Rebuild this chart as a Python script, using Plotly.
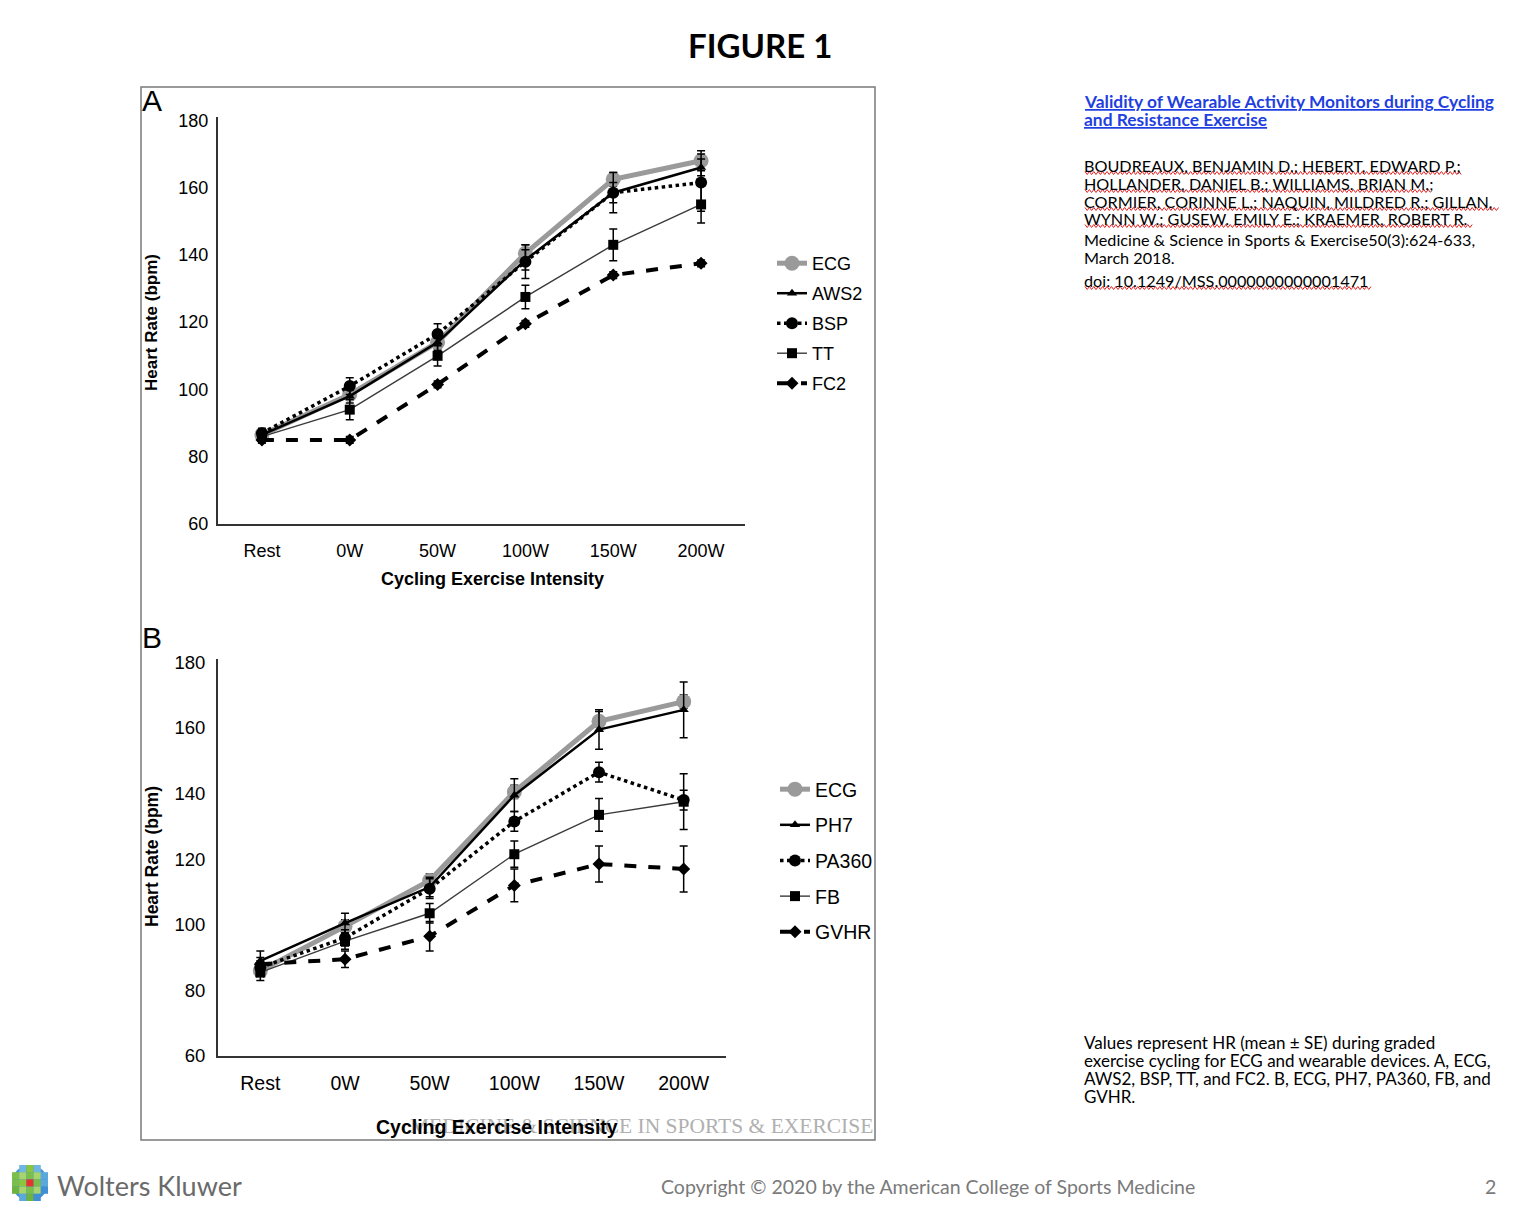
import plotly.graph_objects as go

# ---------------- data ----------------
categories = ["Rest", "0W", "50W", "100W", "150W", "200W"]
y_ticks = [60, 80, 100, 120, 140, 160, 180]

# Panel A
ecg_a = [86.5, 98.5, 114, 140.5, 162.5, 168]
ecg_a_se = [1.5, 1.5, 2, 2.5, 2, 3]
aws2_a = [86.5, 98, 114, 138.5, 158.5, 166]
aws2_a_se = [1.5, 2, 2.5, 3, 3, 2.5]
bsp_a = [87, 101, 116.5, 138, 158.5, 161.5]
bsp_a_se = [1.5, 2.5, 3, 5, 6, 8.5]
tt_a = [86, 94, 110, 127.5, 143, 155]
tt_a_se = [1.5, 3, 3, 3.5, 4.7, 5.5]
fc2_a = [85, 85, 101.5, 119.5, 134, 137.5]
fc2_a_se = [1, 1, 1, 1, 1, 1]

# Panel B
ecg_b = [86, 99.5, 113.5, 140.5, 162, 168]
ecg_b_se = [2, 2, 2, 2, 3, 2]
ph7_b = [89, 100.5, 111.5, 139.5, 159.5, 165.5]
ph7_b_se = [3, 3, 3, 5, 6, 8.5]
pa360_b = [87, 96, 111, 131.5, 146.5, 138]
pa360_b_se = [2, 2.5, 3, 3, 3, 3]
fb_b = [85.5, 95, 103.5, 121.5, 133.5, 137.5]
fb_b_se = [2.5, 2.5, 3, 4, 5, 8.5]
gvhr_b = [88, 89.5, 96.5, 112, 118.5, 117]
gvhr_b_se = [2, 2.5, 4.5, 5, 5.5, 7]

W, H = 1530, 1230
def px(x):
    return x / W
def py(y):
    return 1 - y / H

FONT = "Liberation Sans, Arial, sans-serif"
TXT = "Lato, Open Sans, sans-serif"

fig = go.Figure()

styles = {
    "ecg": dict(line=dict(color="#9a9a9a", width=5), marker=dict(symbol="circle", size=15, color="#9a9a9a")),
    "solid": dict(line=dict(color="#000000", width=2.5), marker=dict(symbol="triangle-up", size=9, color="#000000")),
    "dot": dict(line=dict(color="#000000", width=3.5, dash="dot"), marker=dict(symbol="circle", size=12, color="#000000")),
    "thin": dict(line=dict(color="#3a3a3a", width=1.4), marker=dict(symbol="square", size=10, color="#000000")),
    "dash": dict(line=dict(color="#000000", width=4, dash="dash"), marker=dict(symbol="diamond", size=10, color="#000000")),
}

def add_series(name, y, se, style, xa, ya, legend, group):
    fig.add_trace(go.Scatter(
        x=categories, y=y, name=name, mode="lines+markers",
        error_y=dict(type="data", array=se, visible=True, color="#000000", thickness=1.5, width=4),
        xaxis=xa, yaxis=ya, legend=legend, legendgroup=group,
        **styles[style]))

panelA = [("ECG", ecg_a, ecg_a_se, "ecg"), ("AWS2", aws2_a, aws2_a_se, "solid"),
          ("BSP", bsp_a, bsp_a_se, "dot"), ("TT", tt_a, tt_a_se, "thin"),
          ("FC2", fc2_a, fc2_a_se, "dash")]
panelB = [("ECG", ecg_b, ecg_b_se, "ecg"), ("PH7", ph7_b, ph7_b_se, "solid"),
          ("PA360", pa360_b, pa360_b_se, "dot"), ("FB", fb_b, fb_b_se, "thin"),
          ("GVHR", gvhr_b, gvhr_b_se, "dash")]

for i, (n, y, se, st) in enumerate(panelA):
    add_series(n, y, se, st, "x", "y", "legend", "a%d" % i)
for i, (n, y, se, st) in enumerate(panelB):
    add_series(n, y, se, st, "x2", "y2", "legend2", "b%d" % i)

axis_common = dict(showline=True, linecolor="#333333", linewidth=2, showgrid=False, zeroline=False,
                   fixedrange=True, automargin=False)

def tf(size):
    return dict(family=FONT, size=size, color="#000000")

fig.update_layout(
    width=W, height=H, margin=dict(l=0, r=0, t=0, b=0, pad=0, autoexpand=False),
    paper_bgcolor="white", plot_bgcolor="white",
    xaxis=dict(domain=[px(218), px(745)], anchor="y", type="category", range=[-0.5, 5.5],
               ticks="outside", ticklen=9, tickcolor="rgba(0,0,0,0)", tickfont=tf(18), **axis_common),
    yaxis=dict(domain=[py(524), py(117)], anchor="x", range=[60, 181], tickvals=y_ticks,
               ticks="outside", ticklen=4, tickcolor="rgba(0,0,0,0)", tickfont=tf(18), **axis_common),
    xaxis2=dict(domain=[px(218), px(726)], anchor="y2", type="category", range=[-0.5, 5.5],
                ticks="outside", ticklen=9, tickcolor="rgba(0,0,0,0)", tickfont=tf(19.5), **axis_common),
    yaxis2=dict(domain=[py(1056), py(659)], anchor="x2", range=[60, 181], tickvals=y_ticks,
                ticks="outside", ticklen=7, tickcolor="rgba(0,0,0,0)", tickfont=tf(18.5), **axis_common),
    legend=dict(x=px(772), y=py(245), xanchor="left", yanchor="top", traceorder="grouped",
                tracegroupgap=3.6, bgcolor="rgba(0,0,0,0)", font=tf(18)),
    legend2=dict(x=px(775), y=py(770), xanchor="left", yanchor="top", traceorder="grouped",
                 tracegroupgap=7.3, bgcolor="rgba(0,0,0,0)", font=tf(19.5)),
    showlegend=True,
)

ann = []
def text(x, y, s, size, family=FONT, color="#000000", xanchor="left", bold=False, angle=0, yanchor="middle"):
    ann.append(dict(x=px(x), y=py(y), xref="paper", yref="paper", text=("<b>%s</b>" % s) if bold else s,
                    showarrow=False, xanchor=xanchor, yanchor=yanchor, textangle=angle,
                    font=dict(family=family, size=size, color=color)))

# title
text(760, 45, "FIGURE 1", 33, family=TXT, xanchor="center", bold=True)
# panel labels
text(140, 100, "A", 30, family=FONT)
text(140, 637, "B", 30, family=FONT)
# axis titles
text(152, 323, "Heart Rate (bpm)", 17, bold=True, angle=-90, xanchor="center")
text(152, 857, "Heart Rate (bpm)", 17.5, bold=True, angle=-90, xanchor="center")
# watermark (drawn before the axis title so the title sits on top)
text(875, 1126, "MEDICINE &amp; SCIENCE IN SPORTS &amp; EXERCISE", 21.5,
     family="Liberation Serif, serif", color="#b0b0b0", xanchor="right")
text(492, 579, "Cycling Exercise Intensity", 18, bold=True, xanchor="center")
text(497, 1127, "Cycling Exercise Intensity", 19.5, bold=True, xanchor="center")

# right side text
blue = "#1f3fe0"
text(1082, 102, "<u>Validity of Wearable Activity Monitors during Cycling</u>", 17.4, family=TXT, color=blue, bold=True)
text(1082, 120, "<u>and Resistance Exercise</u>", 17.4, family=TXT, color=blue, bold=True)
author_lines = [
    (165, "BOUDREAUX, BENJAMIN D.; HEBERT, EDWARD P.;", 1462),
    (183, "HOLLANDER, DANIEL B.; WILLIAMS. BRIAN M.;", 1432),
    (201, "CORMIER, CORINNE L.; NAQUIN, MILDRED R.; GILLAN,", 1500),
    (218, "WYNN W.; GUSEW. EMILY E.; KRAEMER, ROBERT R.", 1474),
    (240, "Medicine &amp; Science in Sports &amp; Exercise50(3):624-633,", None),
    (258, "March 2018.", None),
    (280, "doi: 10.1249/MSS.0000000000001471", 1373),
]
for (yy, s, squig) in author_lines:
    text(1082, yy, s, 16.2, family=TXT)

caption = ["Values represent HR (mean ± SE) during graded",
           "exercise cycling for ECG and wearable devices. A, ECG,",
           "AWS2, BSP, TT, and FC2. B, ECG, PH7, PA360, FB, and",
           "GVHR."]
for i, s in enumerate(caption):
    text(1082, 1042 + 18 * i, s, 17, family=TXT)

# footer
text(55, 1185, "Wolters Kluwer", 27, family=TXT, color="#6a6a6a")
text(928, 1186, "Copyright © 2020 by the American College of Sports Medicine", 19.5, family=TXT,
     color="#7a7a7a", xanchor="center")
text(1498, 1186, "2", 19.5, family=TXT, color="#7a7a7a", xanchor="right")

fig.update_layout(annotations=ann)

shapes = []
# figure frame
shapes.append(dict(type="rect", xref="paper", yref="paper", x0=px(141), x1=px(875), y0=py(1140), y1=py(87),
                   line=dict(color="#7a7a7a", width=1.5), fillcolor="rgba(0,0,0,0)", layer="below"))

# red wavy underlines
def squiggle(x0, x1, y):
    pts = []
    x = x0
    up = True
    while x <= x1:
        pts.append("%s%.5f,%.5f" % ("M" if not pts else "L", px(x), py(y - 1.5 if up else y + 1.5)))
        up = not up
        x += 2.2
    return " ".join(pts)
for (yy, s, squig) in author_lines:
    if squig:
        shapes.append(dict(type="path", xref="paper", yref="paper", path=squiggle(1085, squig, yy + 8),
                           line=dict(color="#e02020", width=1)))

# Wolters Kluwer logo mosaic
cx, cy, r = 30, 1183, 18
shapes.append(dict(type="circle", xref="paper", yref="paper", x0=px(cx - r), x1=px(cx + r),
                   y0=py(cy + r), y1=py(cy - r), fillcolor="#3f8fd2", line=dict(width=0)))
cell = 7.2
mosaic = [
    [None, "#6fb7e0", "#8cc63f", "#6fb7e0", None],
    ["#7bbf4a", "#a8d470", "#7bbf4a", "#a8d470", "#5aa8dc"],
    ["#7bbf4a", "#8cc63f", "#e8322f", "#7bbf4a", "#5aa8dc"],
    ["#6db33f", "#a8d470", "#7bbf4a", "#a8d470", "#3f8fd2"],
    [None, "#5aa8dc", "#6db33f", "#3f8fd2", None],
]
for ri, row in enumerate(mosaic):
    for ci, col in enumerate(row):
        if col is None:
            continue
        x0 = cx - 2.5 * cell + ci * cell
        y0 = cy - 2.5 * cell + ri * cell
        shapes.append(dict(type="rect", xref="paper", yref="paper", x0=px(x0), x1=px(x0 + cell),
                           y0=py(y0 + cell), y1=py(y0), fillcolor=col, line=dict(width=0)))
fig.update_layout(shapes=shapes)

fig.write_html("out.html", config={"displayModeBar": False},
               post_script="document.body.style.margin='0';document.body.style.overflow='hidden';")
